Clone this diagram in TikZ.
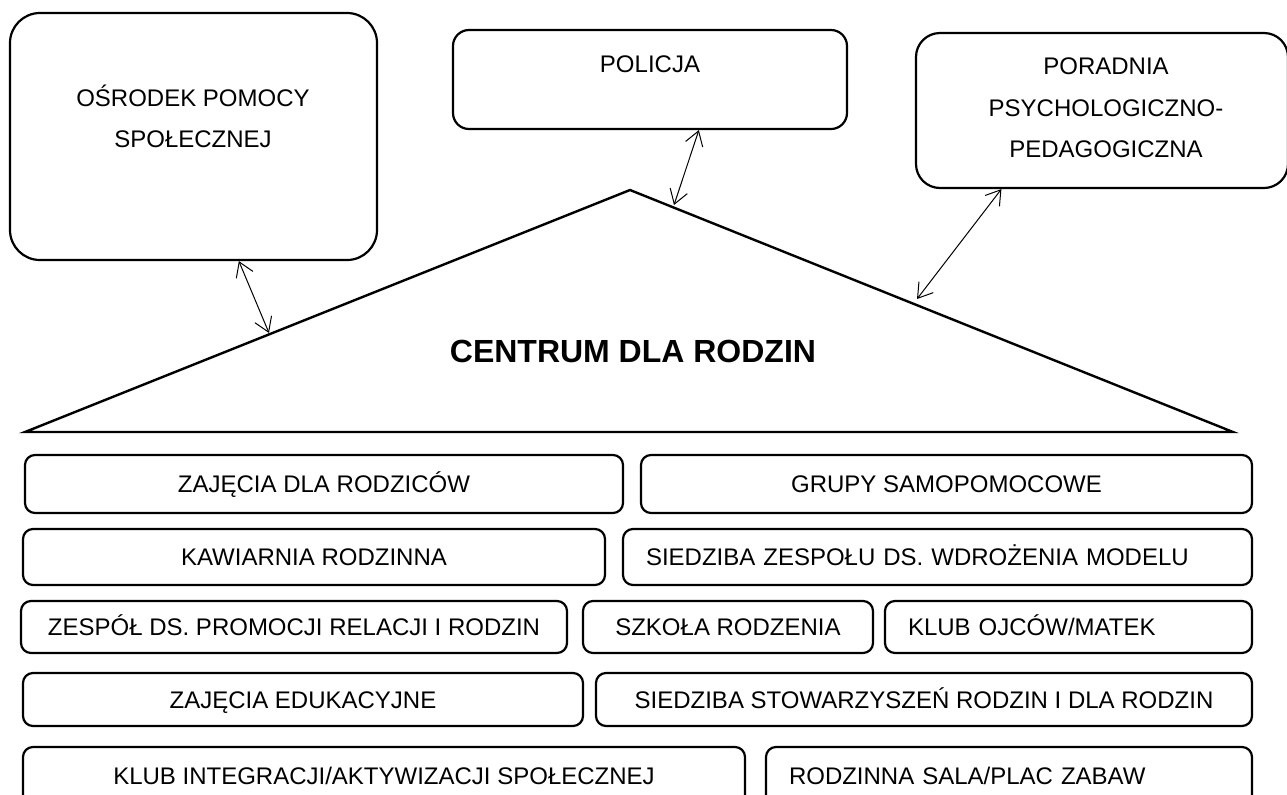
\documentclass[tikz,border=0pt]{standalone}
\usepackage{fontspec}
\setmainfont{Liberation Sans}
\usetikzlibrary{positioning,arrows.meta}

\begin{document}
\begin{tikzpicture}[x=0.5pt, y=-0.5pt, font=\fontsize{12}{20.75}\selectfont,
  bigbox/.style={draw, line width=1.1pt, inner sep=0pt},
  box/.style={draw, line width=1.1pt, rounded corners=5pt, inner sep=0pt, minimum height=#1, text height=8.6pt, text depth=0pt},
  lbox/.style={box=#1, align=left, inner xsep=11.5pt},
  boxtext/.style={align=center},
  link/.style={{Straight Barb[length=7pt,width=9pt]}-{Straight Barb[length=7pt,width=9pt]}, line width=0.5pt}]
\useasboundingbox (0,0) rectangle (1287,794);
% partner institutions
\node[bigbox, rounded corners=15pt, minimum width=183.5pt, minimum height=123.5pt] (osp) at (193.5,136.5) {};
\node[boxtext] (ospText) at (193,116.5) {OŚRODEK POMOCY\\SPOŁECZNEJ};
\node[bigbox, rounded corners=8pt, minimum width=197pt, minimum height=49.5pt] (pol) at (650,79.5) {};
\node (polText) at (650,64) {POLICJA};
\node[bigbox, rounded corners=12pt, minimum width=186pt, minimum height=77.5pt] (ppp) at (1102,110.5) {};
\node[boxtext] (pppText) at (1106,108) {PORADNIA\\PSYCHOLOGICZNO-\\PEDAGOGICZNA};
% roof
\coordinate (roofL) at (25,432);
\coordinate (roofTop) at (630,190);
\coordinate (roofR) at (1233,432);
\draw[line width=1.2pt] (roofL) -- (roofTop) -- (roofR) -- cycle;
\node[font=\fontsize{16}{19}\selectfont\bfseries, text height=11.5pt, text depth=0pt] (centrum) at (633,351) {CENTRUM DLA RODZIN};
\coordinate (hitL) at (269,333);
\coordinate (hitM) at (674,205);
\coordinate (hitR) at (917,299);
\draw[link] (osp.-70.6) -- (hitL);
\draw[link] (pol.-46.5) -- (hitM);
\draw[link] (ppp.-142.8) -- (hitR);
% activities
\node[box=29pt, minimum width=299pt] (parents) at (324,484) {ZAJĘCIA DLA RODZICÓW};
\node[box=29pt, minimum width=305.5pt] (selfhelp) at (946.5,484) {GRUPY SAMOPOMOCOWE};
\node[box=28pt, minimum width=291pt] (cafe) at (314,557) {KAWIARNIA RODZINNA};
\node[lbox=28pt, text width=291.5pt] (seat) at (937.5,557) {SIEDZIBA ZESPOŁU DS. WDROŻENIA MODELU};
\node[box=26pt, minimum width=273pt] (team) at (294,627) {ZESPÓŁ DS. PROMOCJI RELACJI I RODZIN};
\node[box=26pt, minimum width=145pt] (birth) at (728,627) {SZKOŁA RODZENIA};
\node[lbox=26pt, text width=160.5pt] (fathers) at (1068.5,627) {KLUB OJCÓW/MATEK};
\node[box=26.5pt, minimum width=280pt] (edu) at (303,699.5) {ZAJĘCIA EDUKACYJNE};
\node[box=26.5pt, minimum width=328pt] (assoc) at (924,699.5) {SIEDZIBA STOWARZYSZEŃ RODZIN I DLA RODZIN};
\node[box=29pt, minimum width=361pt] (club) at (384,776) {KLUB INTEGRACJI/AKTYWIZACJI SPOŁECZNEJ};
\node[lbox=29pt, text width=220pt] (play) at (1009,776) {RODZINNA SALA/PLAC ZABAW};
\end{tikzpicture}
\end{document}
